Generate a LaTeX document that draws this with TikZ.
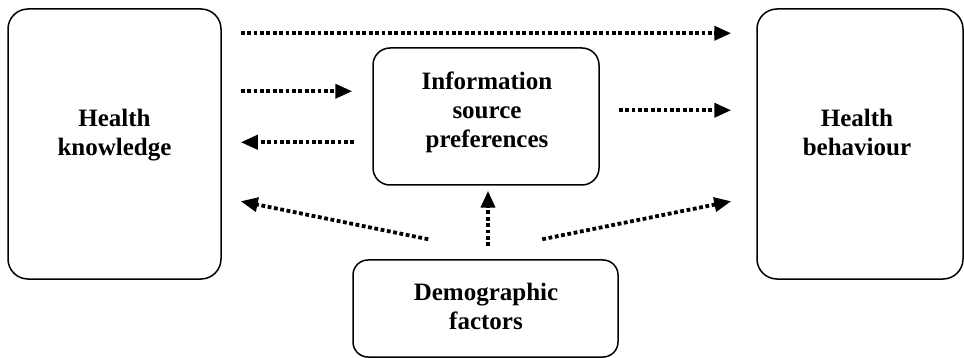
\documentclass[tikz,border=0pt]{standalone}
\usepackage{fontspec}
\setmainfont{Liberation Serif}
\usetikzlibrary{arrows.meta,calc}
\begin{document}
\begin{tikzpicture}[x=1pt,y=-1pt,
  box/.style={draw=black,line width=1.5pt,rounded corners=20pt,inner sep=0pt},
  txt/.style={align=center,font=\fontsize{25}{29}\selectfont\bfseries,inner sep=0pt},
  dotarrow/.style={line width=3.8pt,dash pattern=on 3.8pt off 2.6pt,
    -{Triangle[length=17pt,width=14pt]}}
]
\useasboundingbox (0,0) rectangle (964,358);
\node[box,minimum width=213pt,minimum height=270pt] (hk) at (114.5,144) {};
\node[box,minimum width=206pt,minimum height=270pt] (hb) at (860,144) {};
\node[box,minimum width=226pt,minimum height=137pt,rounded corners=17pt] (isp) at (486,116.5) {};
\node[box,minimum width=265pt,minimum height=97pt,rounded corners=15pt] (dem) at (485.5,308.5) {};
\node[txt] (hkt) at (114.5,134.6) {Health\\knowledge};
\node[txt] (hbt) at (857,132) {Health\\behaviour};
\node[txt] (ispt) at (487,112) {Information\\source\\preferences};
\node[txt] (demt) at (486,306) {Demographic\\factors};
% connectors
\draw[dotarrow] ($(hk.north east)+(19,25)$) -- ($(hb.north west)+(-25,25)$);
\draw[dotarrow] ($(hk.north east)+(19,83)$) -- ($(isp.north west)+(-20,44)$);
\draw[dotarrow] ($(isp.north west)+(-18,95)$) -- ($(hk.north east)+(19,134)$);
\draw[dotarrow] ($(isp.north east)+(19,63)$) -- ($(hb.north west)+(-25,102)$);
\draw[dotarrow] ($(dem.north west)+(76,-20)$) -- ($(hk.north east)+(19,193)$);
\draw[dotarrow] ($(dem.north)+(2.5,-13)$) -- ($(isp.south)+(2,5)$);
\draw[dotarrow] ($(dem.north west)+(190,-20)$) -- ($(hb.north west)+(-25,193)$);
\end{tikzpicture}
\end{document}
